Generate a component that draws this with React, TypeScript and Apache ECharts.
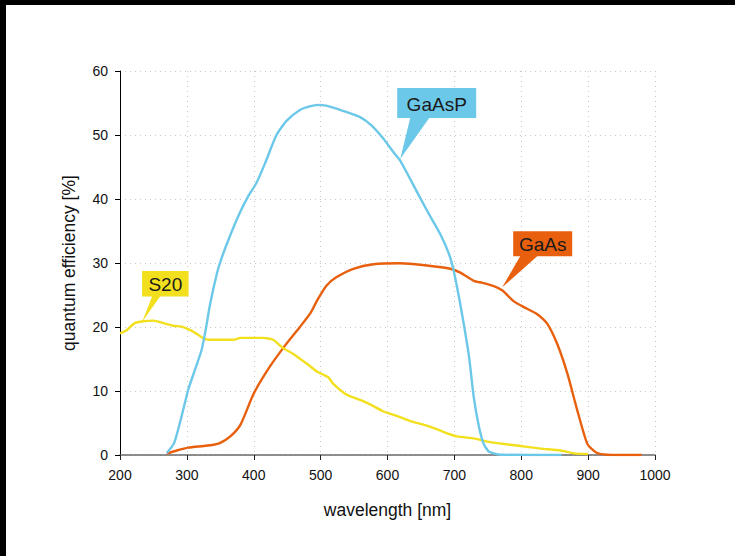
import React, { useEffect, useRef } from "react";
import * as echarts from "echarts";

// ---- data ----
const xTicks = [200, 300, 400, 500, 600, 700, 800, 900, 1000];
const yTicks = [0, 10, 20, 30, 40, 50, 60];

const gaaspNm = [270, 281, 292, 302, 312, 322, 328, 335, 345, 351, 364, 379, 391, 404, 417, 434, 449, 469, 485, 500, 515, 530, 559, 576, 594, 609, 619, 634, 659, 679, 692, 699, 707, 714, 722, 729, 737, 744, 752, 769, 860];
const gaaspQe = [0.3, 1.9, 6, 10.2, 13.3, 16.4, 19.5, 23.7, 28.4, 30.5, 34.1, 37.8, 40.3, 42.5, 45.6, 50, 52.2, 53.9, 54.5, 54.7, 54.4, 53.9, 52.8, 51.5, 49.4, 47.3, 46, 43.1, 38.2, 34.5, 31.4, 28.8, 24.6, 20.5, 15.3, 9.0, 4.3, 1.7, 0.5, 0.05, 0];

const gaasNm = [270, 285, 302, 325, 340, 350, 365, 380, 400, 424, 449, 469, 485, 495, 509, 524, 549, 579, 619, 659, 694, 709, 729, 742, 759, 772, 789, 804, 824, 839, 854, 869, 884, 899, 912, 929, 980];
const gaasQe = [0.2, 0.7, 1.15, 1.4, 1.6, 1.9, 2.9, 4.7, 9.6, 13.8, 17.4, 20.0, 22.2, 24.2, 26.5, 27.8, 29.1, 29.8, 29.95, 29.6, 29.1, 28.5, 27.2, 26.9, 26.4, 25.7, 24.0, 23.1, 22.0, 20.5, 17.3, 12.7, 6.9, 1.7, 0.4, 0.05, 0];

const s20Nm = [200, 210, 222, 235, 250, 265, 280, 292, 305, 315, 327, 340, 370, 380, 414, 429, 444, 459, 479, 495, 505, 512, 519, 539, 559, 574, 594, 614, 634, 659, 679, 704, 729, 749, 769, 799, 829, 859, 879, 900];
const s20Qe = [19.0, 19.5, 20.6, 20.9, 21.0, 20.6, 20.2, 20.05, 19.5, 18.9, 18.1, 18.0, 18.0, 18.3, 18.3, 18.0, 16.7, 15.8, 14.3, 13.0, 12.5, 12.1, 11.1, 9.4, 8.6, 7.9, 6.8, 6.1, 5.3, 4.6, 3.8, 2.9, 2.6, 2.1, 1.8, 1.4, 1.0, 0.7, 0.26, 0.15];

const calloutNames = ["GaAsP", "GaAs", "S20"];
const calloutNm = [619, 771.5, 233];
const calloutQe = [46.25, 26.2, 20.8];

const COLORS = { GaAsP: "#6cc8e8", GaAs: "#e8600e", S20: "#f2e01e" };
const FONT = "'Liberation Sans', Arial, Helvetica, sans-serif";

const zip = (xs: number[], ys: number[]) => xs.map((x, i) => [x, ys[i]]);

export default function App() {
  const ref = useRef<HTMLDivElement>(null);

  useEffect(() => {
    if (!ref.current) return;
    const chart = echarts.init(ref.current, null, { renderer: "svg" });
    const option: any = {
      animation: false,
      backgroundColor: "#ffffff",
      textStyle: { fontFamily: FONT },
      grid: { left: 120, right: 80, top: 71, bottom: 101, containLabel: false },
      xAxis: {
        type: "value",
        min: xTicks[0],
        max: xTicks[xTicks.length - 1],
        interval: 100,
        name: "wavelength [nm]",
        nameLocation: "middle",
        nameGap: 46,
        nameTextStyle: { fontSize: 17.5, color: "#111", fontFamily: FONT },
        axisLine: { show: true, onZero: false, lineStyle: { color: "#6a6a6a", width: 1.5 } },
        axisTick: { show: true, length: 5, inside: false, lineStyle: { color: "#222", width: 1 } },
        axisLabel: { margin: 13, fontSize: 14, color: "#111", fontFamily: FONT, formatter: (v: number) => String(v) },
        splitLine: { show: true, lineStyle: { type: [1, 4], color: "#c8c8c8", width: 1 } },
      },
      yAxis: {
        type: "value",
        min: yTicks[0],
        max: yTicks[yTicks.length - 1],
        interval: 10,
        name: "quantum efficiency [%]",
        nameLocation: "middle",
        nameGap: 42,
        nameTextStyle: { fontSize: 17.5, color: "#111", fontFamily: FONT },
        axisLine: { show: true, lineStyle: { color: "#000", width: 1 } },
        axisTick: { show: true, length: 5, inside: false, lineStyle: { color: "#000", width: 1 } },
        axisLabel: { margin: 12, fontSize: 14, color: "#111", fontFamily: FONT, formatter: (v: number) => String(v) },
        splitLine: { show: true, lineStyle: { type: [1, 4], color: "#c8c8c8", width: 1 } },
      },
      series: [
        {
          name: "GaAs",
          type: "line",
          data: zip(gaasNm, gaasQe),
          showSymbol: false,
          smooth: 0.2,
          lineStyle: { color: COLORS.GaAs, width: 2.4 },
          z: 2,
        },
        {
          name: "S20",
          type: "line",
          data: zip(s20Nm, s20Qe),
          showSymbol: false,
          smooth: 0.2,
          lineStyle: { color: COLORS.S20, width: 2.4 },
          z: 3,
        },
        {
          name: "GaAsP",
          type: "line",
          data: zip(gaaspNm, gaaspQe),
          showSymbol: false,
          smooth: 0.2,
          lineStyle: { color: COLORS.GaAsP, width: 2.4 },
          z: 4,
        },
      ],
    };
    chart.setOption(option);

    // callout layout relative to the tip point (pixels)
    const layout: Record<string, { L: number; R: number; T: number; B: number; n1: number; n2: number }> = {
      GaAsP: { L: -3, R: 76, T: -71, B: -41, n1: 10, n2: 29 },
      GaAs: { L: 11, R: 70, T: -56, B: -31, n1: 18, n2: 35 },
      S20: { L: 0, R: 46.5, T: -51, B: -25.5, n1: 10, n2: 18 },
    };
    const graphics: any[] = [];
    calloutNames.forEach((name, i) => {
      const p = chart.convertToPixel({ gridIndex: 0 }, [calloutNm[i], calloutQe[i]]) as number[];
      const [tx, ty] = p;
      const g = layout[name];
      const pts = [
        [tx + g.L, ty + g.T],
        [tx + g.R, ty + g.T],
        [tx + g.R, ty + g.B],
        [tx + g.n2, ty + g.B],
        [tx, ty],
        [tx + g.n1, ty + g.B],
        [tx + g.L, ty + g.B],
      ];
      graphics.push({
        type: "polygon",
        shape: { points: pts },
        style: { fill: (COLORS as any)[name] },
        z: 100,
      });
      graphics.push({
        type: "text",
        x: tx + (g.L + g.R) / 2,
        y: ty + (g.T + g.B) / 2 + 1,
        style: {
          text: name,
          fontSize: 19,
          fontFamily: FONT,
          fill: "#1a1a1a",
          align: "center",
          verticalAlign: "middle",
        },
        z: 101,
      });
    });
    chart.setOption({ graphic: graphics });

    return () => chart.dispose();
  }, []);

  return (
    <div style={{ position: "fixed", left: 0, top: 0, width: 735, height: 556, background: "#fff" }}>
      <div ref={ref} style={{ position: "absolute", left: 0, top: 0, width: 735, height: 556 }} />
      <div style={{ position: "absolute", left: 0, top: 0, width: 735, height: 5, background: "#000" }} />
      <div style={{ position: "absolute", left: 0, top: 0, width: 6, height: 556, background: "#000" }} />
    </div>
  );
}
